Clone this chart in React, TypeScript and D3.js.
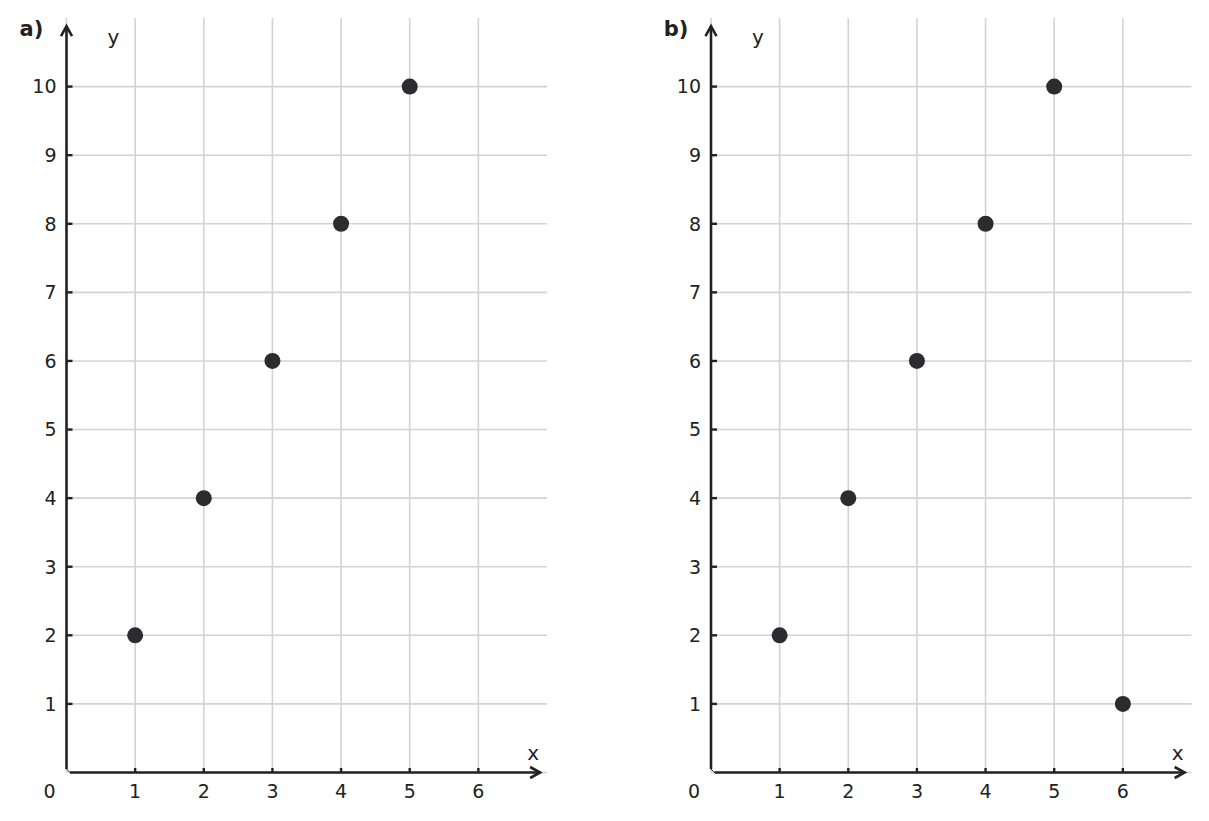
import React from 'react';
import * as d3 from 'd3';

// panel data
const panelLabels = ['a)', 'b)'];
const aX = [1, 2, 3, 4, 5];
const aY = [2, 4, 6, 8, 10];
const bX = [1, 2, 3, 4, 5, 6];
const bY = [2, 4, 6, 8, 10, 1];
const xTicks = [1, 2, 3, 4, 5, 6];
const yTicks = [1, 2, 3, 4, 5, 6, 7, 8, 9, 10];
const xDomain: [number, number] = [0, 7];
const yDomain: [number, number] = [0, 11];

const W = 1209;
const H = 821;
const FONT = '"DejaVu Sans", Verdana, sans-serif';
const AXIS = '#222222';
const GRID = '#d3d3d3';
const DOT = '#2b2b30';

interface PanelProps {
  label: string;
  xs: number[];
  ys: number[];
  left: number;
}

function Panel({ label, xs, ys, left }: PanelProps) {
  const x = d3.scaleLinear().domain(xDomain).range([left, left + 480.5]);
  const y = d3.scaleLinear().domain(yDomain).range([772.5, 18]);
  const x0 = x(0);
  const y0 = y(0);
  const xEnd = x(6.9);
  const yTop = y(10.88);
  const points = xs.map((v, i) => ({ x: v, y: ys[i] }));

  return (
    <g>
      {/* grid */}
      {d3.range(0, 7).map(t => (
        <line key={'gx' + t} x1={x(t)} x2={x(t)} y1={y(11)} y2={y0} stroke={GRID} strokeWidth={1.6} />
      ))}
      {d3.range(0, 11).map(t => (
        <line key={'gy' + t} x1={x0} x2={x(7)} y1={y(t)} y2={y(t)} stroke={GRID} strokeWidth={1.6} />
      ))}

      {/* axes */}
      <line x1={x0} x2={x0} y1={y0 - 3.5} y2={yTop} stroke={AXIS} strokeWidth={2.6} />
      <line x1={x0 + 3.5} x2={xEnd} y1={y0} y2={y0} stroke={AXIS} strokeWidth={2.6} />
      <path d={`M${x0},${y0 - 3.5} L${x0 + 3.5},${y0}`} stroke={AXIS} strokeWidth={1} fill="none" />
      <path
        d={`M${x0 - 5.5},${yTop + 10} L${x0},${yTop} L${x0 + 5.5},${yTop + 10}`}
        stroke={AXIS} strokeWidth={2.6} fill="none" strokeLinejoin="miter"
      />
      <path
        d={`M${xEnd - 10},${y0 - 5.5} L${xEnd},${y0} L${xEnd - 10},${y0 + 5.5}`}
        stroke={AXIS} strokeWidth={2.6} fill="none" strokeLinejoin="miter"
      />

      {/* ticks */}
      {yTicks.map(t => (
        <g key={'ty' + t}>
          <line x1={x0} x2={x0 + 6} y1={y(t)} y2={y(t)} stroke={AXIS} strokeWidth={2.4} />
          <text x={x0 - 10} y={y(t)} dy="0.36em" textAnchor="end" fontSize={19} fill={AXIS} fontFamily={FONT}>{t}</text>
        </g>
      ))}
      {xTicks.map(t => (
        <g key={'tx' + t}>
          <line x1={x(t)} x2={x(t)} y1={y0} y2={y0 - 4.5} stroke={AXIS} strokeWidth={2.4} />
          <text x={x(t)} y={y0 + 19} dy="0.36em" textAnchor="middle" fontSize={19} fill={AXIS} fontFamily={FONT}>{t}</text>
        </g>
      ))}
      <text x={x0 - 17} y={y0 + 19} dy="0.36em" textAnchor="middle" fontSize={19} fill={AXIS} fontFamily={FONT}>0</text>

      {/* labels */}
      <text x={x0 + 47} y={y(10.72)} dy="0.36em" textAnchor="middle" fontSize={20} fill={AXIS} fontFamily={FONT}>y</text>
      <text x={x(6.8)} y={y(0.29)} dy="0.36em" textAnchor="middle" fontSize={20} fill={AXIS} fontFamily={FONT}>x</text>
      <text x={x0 - 35} y={28} dy="0.36em" textAnchor="middle" fontSize={21} fontWeight="bold" fill={AXIS} fontFamily={FONT}>{label}</text>

      {/* points */}
      {points.map((p, i) => (
        <circle key={'p' + i} cx={x(p.x)} cy={y(p.y)} r={8} fill={DOT} />
      ))}
    </g>
  );
}

export default function App() {
  return (
    <svg
      width={W}
      height={H}
      viewBox={`0 0 ${W} ${H}`}
      style={{ position: 'absolute', left: 0, top: 0, background: '#fff' }}
    >
      <rect width={W} height={H} fill="#fff" />
      <Panel label={panelLabels[0]} xs={aX} ys={aY} left={66.5} />
      <Panel label={panelLabels[1]} xs={bX} ys={bY} left={711} />
    </svg>
  );
}
